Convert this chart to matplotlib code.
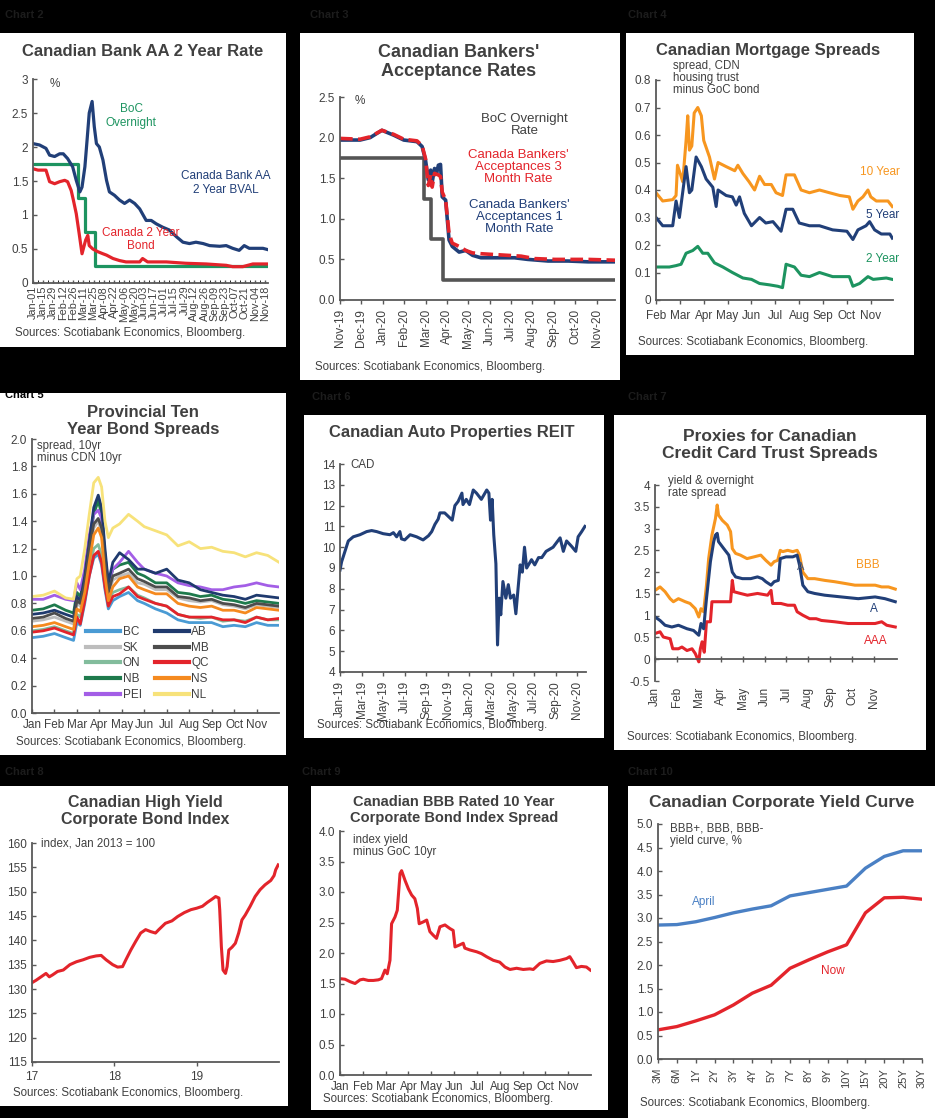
import numpy as np
import matplotlib.pyplot as plt
from matplotlib.patches import Rectangle

plt.rcParams['font.family'] = ['Liberation Sans', 'DejaVu Sans']

# ---------------- data ----------------
# Chart 2: x = days since Jan 1 2020
c2_labels = ["Jan-01", "Jan-15", "Jan-29", "Feb-12", "Feb-26", "Mar-11", "Mar-25", "Apr-08",
             "Apr-22", "May-06", "May-20", "Jun-03", "Jun-17", "Jul-01", "Jul-15", "Jul-29",
             "Aug-12", "Aug-26", "Sep-09", "Sep-23", "Oct-07", "Oct-21", "Nov-04", "Nov-18"]
bval_x = [0, 9, 18, 23, 30, 37, 42, 48, 55, 60, 65, 68, 72, 75, 78, 82, 85, 88, 92, 97, 102, 106,
          113, 120, 127, 134, 141, 148, 157, 164, 171, 180, 189, 199, 208, 217, 226, 236, 245, 259,
          268, 277, 286, 293, 300, 309, 319, 326]
bval_y = [2.05, 2.03, 1.98, 1.88, 1.86, 1.9, 1.9, 1.83, 1.71, 1.51, 1.34, 1.41, 1.71, 2.1, 2.5, 2.67,
          2.3, 2.05, 2.0, 1.81, 1.51, 1.34, 1.29, 1.22, 1.17, 1.22, 1.17, 1.09, 0.92, 0.92, 0.87, 0.82,
          0.78, 0.68, 0.6, 0.58, 0.6, 0.58, 0.55, 0.54, 0.55, 0.51, 0.48, 0.55, 0.51, 0.51, 0.51, 0.49]
bond_x = [0, 7, 18, 23, 30, 37, 44, 48, 53, 56, 60, 64, 68, 73, 76, 78, 83, 90, 97, 102, 111, 120,
          129, 148, 152, 159, 185, 212, 240, 268, 277, 291, 305, 326]
bond_y = [1.68, 1.66, 1.66, 1.49, 1.46, 1.49, 1.51, 1.49, 1.36, 1.22, 1.02, 0.73, 0.43, 0.63, 0.7,
          0.55, 0.5, 0.46, 0.43, 0.41, 0.36, 0.33, 0.31, 0.31, 0.36, 0.31, 0.31, 0.29, 0.28, 0.26,
          0.24, 0.24, 0.28, 0.28]
boc2_x = [0, 63, 72, 86, 326]
boc2_y = [1.75, 1.25, 0.75, 0.25, 0.25]

# Chart 3: x = months since Nov 2019
c3_labels = ["Nov-19", "Dec-19", "Jan-20", "Feb-20", "Mar-20", "Apr-20", "May-20", "Jun-20",
             "Jul-20", "Aug-20", "Sep-20", "Oct-20", "Nov-20"]
ba1_x = [0, 0.94, 1.41, 1.96, 2.51, 2.98, 3.6, 3.84, 4.0, 4.13, 4.24, 4.31, 4.42, 4.52, 4.6, 4.7,
         4.78, 4.94, 5.1, 5.25, 5.57, 5.88, 6.2, 6.59, 7.22, 8.16, 8.78, 9.73, 10.67, 11.6, 12.86]
ba1_y = [1.97, 1.97, 2.0, 2.09, 2.03, 1.97, 1.95, 1.89, 1.72, 1.48, 1.6, 1.45, 1.62, 1.56, 1.66, 1.67,
         1.27, 1.23, 0.74, 0.66, 0.59, 0.61, 0.55, 0.52, 0.52, 0.52, 0.5, 0.48, 0.48, 0.47, 0.47]
ba3_x = [0, 0.94, 1.41, 1.96, 2.51, 2.98, 3.6, 3.84, 4.0, 4.13, 4.24, 4.31, 4.42, 4.6, 4.7, 4.78,
         4.94, 5.1, 5.25, 5.57, 5.88, 6.2, 6.59, 7.84, 8.47, 9.1, 10.04, 11.6, 12.86]
ba3_y = [1.99, 1.98, 2.01, 2.09, 2.04, 1.98, 1.96, 1.9, 1.74, 1.41, 1.54, 1.39, 1.56, 1.54, 1.52, 1.33,
         1.23, 0.82, 0.7, 0.66, 0.61, 0.58, 0.57, 0.55, 0.54, 0.51, 0.5, 0.5, 0.49]
boc3_x = [0, 3.95, 4.25, 4.8, 12.86]
boc3_y = [1.75, 1.25, 0.75, 0.25, 0.25]

# Chart 4: x = months since Feb 1
c4_labels = ["Feb", "Mar", "Apr", "May", "Jun", "Jul", "Aug", "Sep", "Oct", "Nov"]
y10_x = [0, 0.28, 0.7, 0.84, 0.9, 1.05, 1.12, 1.26, 1.33, 1.4, 1.5, 1.6, 1.75, 1.9, 2.0, 2.24, 2.45,
         2.6, 2.94, 3.3, 3.43, 3.64, 3.9, 4.13, 4.34, 4.55, 4.83, 5.03, 5.3, 5.45, 5.8, 6.08, 6.43,
         6.85, 7.27, 7.7, 8.1, 8.25, 8.46, 8.67, 8.88, 9.0, 9.23, 9.5, 9.72, 9.9]
y10_y = [0.39, 0.36, 0.365, 0.38, 0.49, 0.45, 0.43, 0.58, 0.67, 0.545, 0.56, 0.68, 0.70, 0.67, 0.58,
         0.52, 0.44, 0.50, 0.485, 0.47, 0.49, 0.46, 0.43, 0.40, 0.45, 0.42, 0.42, 0.39, 0.38, 0.455,
         0.455, 0.40, 0.39, 0.40, 0.39, 0.38, 0.375, 0.33, 0.36, 0.375, 0.40, 0.375, 0.36, 0.36, 0.36,
         0.34]
y5_x = [0, 0.28, 0.7, 0.84, 0.98, 1.26, 1.4, 1.5, 1.68, 1.9, 2.1, 2.38, 2.52, 2.6, 2.94, 3.2, 3.36,
        3.5, 3.7, 4.0, 4.34, 4.6, 4.9, 5.24, 5.45, 5.73, 6.0, 6.43, 6.85, 7.4, 8.0, 8.25, 8.46, 8.8,
        8.95, 9.16, 9.44, 9.8, 9.9]
y5_y = [0.30, 0.27, 0.27, 0.36, 0.30, 0.485, 0.39, 0.40, 0.52, 0.485, 0.44, 0.41, 0.34, 0.40, 0.38,
        0.375, 0.345, 0.375, 0.315, 0.27, 0.30, 0.28, 0.285, 0.25, 0.33, 0.33, 0.28, 0.27, 0.27,
        0.255, 0.25, 0.22, 0.255, 0.27, 0.285, 0.255, 0.24, 0.24, 0.225]
y2_x = [0, 0.56, 0.84, 1.05, 1.26, 1.54, 1.75, 1.96, 2.17, 2.45, 2.8, 3.2, 3.64, 4.0, 4.34, 4.76,
        5.1, 5.3, 5.45, 5.8, 6.08, 6.43, 6.85, 7.4, 8.1, 8.25, 8.53, 8.88, 9.1, 9.65, 9.9]
y2_y = [0.12, 0.12, 0.125, 0.13, 0.17, 0.18, 0.195, 0.17, 0.17, 0.135, 0.12, 0.10, 0.08, 0.075, 0.06,
        0.055, 0.05, 0.045, 0.13, 0.12, 0.09, 0.085, 0.10, 0.085, 0.085, 0.05, 0.06, 0.085, 0.075,
        0.08, 0.075]

# Chart 5: x = months since Jan 1
c5_labels = ["Jan", "Feb", "Mar", "Apr", "May", "Jun", "Jul", "Aug", "Sep", "Oct", "Nov"]
prov_x = [0, 0.5, 1.0, 1.5, 1.85, 2.0, 2.15, 2.35, 2.55, 2.75, 2.95, 3.1, 3.25, 3.4, 3.6, 3.9, 4.3,
          4.7, 5.0, 5.5, 6.0, 6.5, 7.0, 7.5, 8.0, 8.5, 9.0, 9.5, 10.0, 10.5, 11.0]
bc = [0.55, 0.56, 0.58, 0.55, 0.53, 0.66, 0.64, 0.80, 1.00, 1.13, 1.16, 1.08, 0.90, 0.76, 0.82, 0.85,
      0.88, 0.82, 0.80, 0.76, 0.73, 0.68, 0.66, 0.66, 0.66, 0.63, 0.64, 0.63, 0.66, 0.64, 0.64]
ab = [0.72, 0.73, 0.75, 0.72, 0.70, 0.85, 0.82, 1.00, 1.25, 1.50, 1.59, 1.50, 1.20, 0.95, 1.10, 1.17,
      1.12, 1.05, 1.05, 1.02, 1.05, 0.97, 0.95, 0.90, 0.88, 0.86, 0.85, 0.83, 0.86, 0.85, 0.84]
sk = [0.67, 0.68, 0.70, 0.67, 0.65, 0.80, 0.78, 0.92, 1.15, 1.35, 1.40, 1.32, 1.05, 0.86, 0.97, 1.00,
      1.02, 0.95, 0.94, 0.90, 0.90, 0.84, 0.82, 0.81, 0.82, 0.79, 0.78, 0.76, 0.79, 0.78, 0.77]
mb = [0.69, 0.70, 0.73, 0.69, 0.67, 0.82, 0.80, 0.95, 1.20, 1.38, 1.42, 1.35, 1.10, 0.88, 1.00, 1.02,
      1.05, 0.98, 0.96, 0.92, 0.92, 0.85, 0.84, 0.82, 0.83, 0.80, 0.79, 0.77, 0.80, 0.79, 0.78]
on = [0.60, 0.61, 0.63, 0.60, 0.58, 0.72, 0.70, 0.85, 1.05, 1.20, 1.23, 1.15, 0.95, 0.80, 0.88, 0.90,
      0.92, 0.86, 0.84, 0.80, 0.78, 0.72, 0.70, 0.69, 0.70, 0.67, 0.68, 0.67, 0.70, 0.68, 0.68]
qc = [0.59, 0.60, 0.62, 0.59, 0.57, 0.70, 0.65, 0.82, 1.00, 1.15, 1.18, 1.10, 0.92, 0.78, 0.85, 0.87,
      0.92, 0.85, 0.83, 0.80, 0.78, 0.72, 0.70, 0.70, 0.70, 0.68, 0.68, 0.66, 0.70, 0.68, 0.69]
nb = [0.75, 0.76, 0.79, 0.75, 0.73, 0.88, 0.85, 1.00, 1.25, 1.45, 1.55, 1.45, 1.15, 0.92, 1.05, 1.08,
      1.10, 1.02, 1.00, 0.95, 0.95, 0.88, 0.87, 0.85, 0.86, 0.83, 0.82, 0.80, 0.82, 0.81, 0.80]
ns = [0.63, 0.64, 0.66, 0.63, 0.61, 0.76, 0.74, 0.88, 1.10, 1.30, 1.35, 1.28, 1.00, 0.82, 0.92, 0.98,
      1.00, 0.92, 0.90, 0.87, 0.87, 0.80, 0.78, 0.77, 0.78, 0.75, 0.75, 0.73, 0.77, 0.76, 0.75]
pei = [0.83, 0.83, 0.86, 0.83, 0.82, 0.95, 0.90, 1.05, 1.30, 1.45, 1.48, 1.42, 1.15, 0.95, 1.05, 1.10,
       1.18, 1.10, 1.05, 1.02, 1.00, 0.95, 0.93, 0.92, 0.90, 0.90, 0.92, 0.93, 0.95, 0.93, 0.92]
nl = [0.85, 0.86, 0.89, 0.84, 0.83, 0.98, 1.00, 1.20, 1.45, 1.68, 1.72, 1.65, 1.40, 1.28, 1.35, 1.38,
      1.45, 1.40, 1.36, 1.33, 1.30, 1.22, 1.25, 1.20, 1.21, 1.18, 1.17, 1.14, 1.17, 1.15, 1.10]

# Chart 6: x = months since Jan 2019
c6_labels = ["Jan-19", "Mar-19", "May-19", "Jul-19", "Sep-19", "Nov-19", "Jan-20", "Mar-20",
             "May-20", "Jul-20", "Sep-20", "Nov-20"]
reit_x = [0, 0.15, 0.46, 0.77, 1.23, 1.85, 2.47, 2.93, 3.4, 4.0, 4.63, 4.95, 5.25, 5.55, 5.7, 6.0,
          6.5, 7.1, 7.7, 8.2, 8.5, 8.8, 9.1, 9.26, 9.7, 10.2, 10.4, 10.65, 10.95, 11.3, 11.4, 11.7,
          12.0, 12.35, 12.65, 13.1, 13.6, 13.8, 13.95, 14.1, 14.25, 14.45, 14.6, 14.75, 14.9, 15.1,
          15.37, 15.6, 15.8, 16.1, 16.3, 16.5, 16.7, 16.9, 17.1, 17.3, 17.75, 18.05, 18.4, 18.7,
          19.1, 19.75, 20.4, 20.7, 21.0, 21.45, 21.85, 22.07, 22.4, 22.7]
reit_y = [8.9, 9.3, 9.8, 10.3, 10.5, 10.6, 10.75, 10.8, 10.75, 10.65, 10.6, 10.7, 10.5, 10.75, 10.4,
          10.35, 10.6, 10.5, 10.35, 10.55, 10.75, 11.1, 11.35, 11.65, 11.65, 11.4, 11.3, 12.0, 12.2,
          12.6, 12.05, 12.3, 12.05, 12.75, 12.6, 12.3, 12.75, 12.6, 11.3, 12.3, 10.6, 9.2, 5.3, 7.55,
          6.75, 8.35, 7.55, 8.2, 7.55, 7.7, 6.8, 8.0, 9.15, 8.8, 10.0, 9.0, 9.4, 9.15, 9.5, 9.5, 9.8,
          10.0, 10.45, 9.8, 10.3, 10.05, 9.8, 10.5, 10.75, 11.0]

# Chart 7: x = months since Jan 1
c7_labels = ["Jan", "Feb", "Mar", "Apr", "May", "Jun", "Jul", "Aug", "Sep", "Oct", "Nov"]
bbb_x = [0, 0.23, 0.46, 0.69, 0.84, 1.07, 1.38, 1.6, 1.84, 2.0, 2.1, 2.22, 2.35, 2.45, 2.6, 2.76,
         2.84, 2.9, 3.07, 3.3, 3.45, 3.53, 3.68, 3.9, 4.2, 4.52, 4.83, 5.06, 5.3, 5.44, 5.6, 5.72,
         5.83, 6.06, 6.29, 6.49, 6.6, 6.75, 6.98, 7.29, 7.75, 8.2, 8.67, 9.13, 9.6, 10.05, 10.35,
         10.66, 10.97]
bbb_y = [1.58, 1.66, 1.55, 1.39, 1.32, 1.39, 1.32, 1.28, 1.16, 0.97, 1.16, 1.09, 1.7, 2.31, 2.85,
         3.23, 3.54, 3.31, 3.19, 3.08, 2.93, 2.54, 2.43, 2.39, 2.31, 2.35, 2.39, 2.27, 2.16, 2.24,
         2.27, 2.5, 2.47, 2.5, 2.47, 2.5, 2.39, 2.0, 1.85, 1.85, 1.81, 1.78, 1.74, 1.7, 1.7, 1.7,
         1.66, 1.66, 1.61]
a_x = [0, 0.23, 0.46, 0.77, 1.07, 1.46, 1.76, 2.0, 2.1, 2.22, 2.35, 2.53, 2.68, 2.76, 2.84, 2.9,
       3.14, 3.37, 3.53, 3.68, 3.99, 4.37, 4.68, 4.9, 5.06, 5.3, 5.44, 5.63, 5.72, 5.98, 6.29, 6.49,
       6.6, 6.75, 6.98, 7.29, 7.75, 8.51, 9.28, 10.05, 10.5, 10.97]
a_y = [0.97, 0.89, 0.78, 0.74, 0.78, 0.7, 0.66, 0.55, 0.82, 0.7, 1.39, 2.24, 2.7, 2.85, 2.89, 2.7,
       2.54, 2.39, 2.0, 1.89, 1.85, 1.85, 1.89, 1.85, 1.78, 1.7, 1.78, 1.81, 2.31, 2.35, 2.35, 2.39,
       2.16, 1.7, 1.55, 1.51, 1.47, 1.43, 1.39, 1.43, 1.39, 1.32]
aaa_x = [0, 0.23, 0.38, 0.69, 0.81, 1.07, 1.23, 1.46, 1.69, 1.84, 2.0, 2.07, 2.15, 2.25, 2.35, 2.53,
         2.6, 2.99, 3.45, 3.53, 3.6, 3.9, 4.22, 4.68, 5.14, 5.3, 5.37, 5.75, 6.06, 6.37, 6.49, 6.75,
         7.06, 7.36, 7.6, 8.2, 8.82, 9.43, 10.05, 10.35, 10.58, 10.97]
aaa_y = [0.59, 0.63, 0.51, 0.47, 0.24, 0.24, 0.28, 0.2, 0.24, 0.13, -0.06, 0.24, 0.4, 0.16, 0.86,
         0.86, 1.32, 1.32, 1.32, 1.81, 1.55, 1.51, 1.47, 1.51, 1.47, 1.58, 1.28, 1.28, 1.24, 1.24,
         1.09, 1.01, 0.93, 0.93, 0.89, 0.86, 0.82, 0.82, 0.82, 0.86, 0.78, 0.74]

# Chart 8: x = years
c8_labels = ["17", "18", "19"]
hy_x = [17.0, 17.05, 17.11, 17.17, 17.21, 17.25, 17.31, 17.38, 17.46, 17.54, 17.62, 17.7, 17.78,
        17.84, 17.9, 17.98, 18.04, 18.1, 18.14, 18.2, 18.26, 18.32, 18.38, 18.44, 18.5, 18.54, 18.62,
        18.7, 18.77, 18.85, 18.93, 19.0, 19.07, 19.13, 19.19, 19.23, 19.27, 19.28, 19.3, 19.32,
        19.35, 19.37, 19.39, 19.43, 19.47, 19.51, 19.55, 19.59, 19.65, 19.71, 19.77, 19.83, 19.9,
        19.94, 19.96, 19.99]
hy_y = [131.3, 131.8, 132.5, 133.2, 132.5, 132.9, 133.6, 133.9, 135.0, 135.6, 136.0, 136.5, 136.8,
        136.9, 136.0, 135.0, 134.5, 134.6, 136.0, 138.0, 139.8, 141.5, 142.2, 141.8, 141.5, 142.2,
        143.5, 144.0, 144.9, 145.7, 146.3, 146.6, 147.0, 147.8, 148.5, 149.0, 148.7, 146.3, 138.7,
        133.9, 133.2, 134.6, 138.0, 138.6, 139.4, 141.5, 144.2, 145.2, 147.0, 149.0, 150.4, 151.4,
        152.3, 153.3, 154.5, 155.5]

# Chart 9: x = months since Jan 1
c9_labels = ["Jan", "Feb", "Mar", "Apr", "May", "Jun", "Jul", "Aug", "Sep", "Oct", "Nov"]
bbb10_x = [0, 0.22, 0.44, 0.66, 0.88, 1.02, 1.24, 1.46, 1.68, 1.82, 1.97, 2.07, 2.19, 2.26, 2.41,
           2.51, 2.63, 2.7, 2.85, 3.0, 3.14, 3.28, 3.39, 3.47, 3.65, 3.8, 3.94, 4.09, 4.23, 4.38,
           4.6, 4.82, 4.96, 5.04, 5.23, 5.4, 5.47, 5.69, 5.99, 6.2, 6.42, 6.72, 7.0, 7.23, 7.45,
           7.74, 8.03, 8.32, 8.47, 8.76, 9.05, 9.34, 9.64, 9.93, 10.07, 10.22, 10.36, 10.58, 10.8,
           10.97]
bbb10_y = [1.58, 1.57, 1.53, 1.5, 1.56, 1.57, 1.55, 1.55, 1.56, 1.58, 1.72, 1.66, 1.88, 2.48, 2.59,
           2.7, 3.3, 3.35, 3.19, 3.05, 2.95, 2.89, 2.73, 2.48, 2.51, 2.54, 2.35, 2.29, 2.24, 2.43,
           2.46, 2.4, 2.37, 2.1, 2.13, 2.16, 2.08, 2.05, 2.02, 1.99, 1.94, 1.88, 1.85, 1.77, 1.73,
           1.75, 1.73, 1.74, 1.73, 1.83, 1.87, 1.86, 1.88, 1.91, 1.94, 1.85, 1.76, 1.78, 1.77, 1.72]

# Chart 10: yield curve
tenors = ["3M", "6M", "1Y", "2Y", "3Y", "4Y", "5Y", "7Y", "8Y", "9Y", "10Y", "15Y", "20Y", "25Y", "30Y"]
april = [2.85, 2.86, 2.92, 3.01, 3.11, 3.19, 3.26, 3.47, 3.54, 3.61, 3.68, 4.06, 4.31, 4.43, 4.43]
now = [0.62, 0.69, 0.81, 0.94, 1.15, 1.40, 1.57, 1.93, 2.11, 2.28, 2.43, 3.11, 3.43, 3.44, 3.40]

SOURCE = "Sources: Scotiabank Economics, Bloomberg."

# ---------------- colours ----------------
NAVY = '#213f78'
RED = '#e3242b'
GREEN = '#1d9460'
ORANGE = '#f7961f'
TXT = '#404040'
AXC = '#595959'
DIM = '#1c1c1c'

W, H = 935, 1118
fig = plt.figure(figsize=(W / 100, H / 100), dpi=100, facecolor='black')


def panel(x0, y0, x1, y1):
    fig.patches.append(Rectangle((x0 / W, 1 - y1 / H), (x1 - x0) / W, (y1 - y0) / H,
                                 transform=fig.transFigure, facecolor='white',
                                 edgecolor='none', zorder=-5))


def make_ax(x0, y0, x1, y1):
    ax = fig.add_axes([x0 / W, 1 - y1 / H, (x1 - x0) / W, (y1 - y0) / H])
    ax.set_facecolor('none')
    for s in ['top', 'right']:
        ax.spines[s].set_visible(False)
    for s in ['left', 'bottom']:
        ax.spines[s].set_color(AXC)
        ax.spines[s].set_linewidth(1.3)
    ax.tick_params(colors=AXC, labelcolor=TXT, labelsize=8.5, length=3, width=1)
    ax.tick_params(axis='y', direction='in')
    return ax


def ftext(x, y, s, **kw):
    kw.setdefault('color', TXT)
    kw.setdefault('fontsize', 8.5)
    fig.text(x / W, 1 - y / H, s, **kw)


def title(x, y, s, size=12, spacing=1.05):
    ftext(x, y, s, ha='center', va='center', fontsize=size, fontweight='bold',
          linespacing=spacing)


def source(x, y):
    ftext(x, y, SOURCE, ha='left', va='center', fontsize=8.3)


# white panels
panel(0, 33, 286, 347)
panel(300, 33, 620, 380)
panel(626, 33, 914, 355)
panel(0, 393, 286, 755)
panel(304, 415, 604, 738)
panel(614, 415, 926, 750)
panel(0, 786, 288, 1106)
panel(311, 786, 608, 1110)
panel(628, 786, 935, 1118)

# chart numbers
for cx, cy, lab, col in [(5, 15, "Chart 2", DIM), (310, 15, "Chart 3", DIM),
                         (628, 15, "Chart 4", DIM), (5, 395, "Chart 5", 'black'),
                         (312, 397, "Chart 6", DIM), (628, 397, "Chart 7", DIM),
                         (5, 772, "Chart 8", DIM), (302, 772, "Chart 9", DIM),
                         (628, 772, "Chart 10", DIM)]:
    ftext(cx, cy, lab, color=col, fontsize=8, fontweight='bold', va='center')

# ---- Chart 2 ----
title(143, 52, "Canadian Bank AA 2 Year Rate")
ax = make_ax(33, 79, 268, 283)
ax.plot(boc2_x, boc2_y, color=GREEN, lw=2.3, drawstyle='steps-post')
ax.plot(bond_x, bond_y, color=RED, lw=2.3)
ax.plot(bval_x, bval_y, color=NAVY, lw=2.3)
ax.set_xlim(0, 326)
ax.set_ylim(0, 3)
ax.set_yticks([0, 0.5, 1, 1.5, 2, 2.5, 3], ["0", "0.5", "1", "1.5", "2", "2.5", "3"])
ax.set_xticks(np.arange(len(c2_labels)) * 14, c2_labels, rotation=90)
ax.set_xticks(np.arange(0, 326, 7), minor=True)
ax.tick_params(axis='x', which='both', direction='in', labelsize=7.8, length=2.5, pad=2)
ax.text(23, 2.93, "%", color=TXT, fontsize=8.5, va='center')
ax.text(136, 2.45, "BoC\nOvernight", color=GREEN, fontsize=8.5, ha='center', va='center')
ax.text(268, 1.47, "Canada Bank AA\n2 Year BVAL", color=NAVY, fontsize=8.5, ha='center', va='center')
ax.text(150, 0.64, "Canada 2 Year\nBond", color=RED, fontsize=8.5, ha='center', va='center')
source(15, 333)

# ---- Chart 3 ----
title(459, 62, "Canadian Bankers'\nAcceptance Rates", size=13, spacing=1.2)
ax = make_ax(340, 97, 615, 300)
ax.plot(boc3_x, boc3_y, color='#555555', lw=2.6, drawstyle='steps-post')
ax.plot(ba1_x, ba1_y, color=NAVY, lw=2.6)
ax.plot(ba3_x, ba3_y, color=RED, lw=2.6, dashes=(3.5, 1.5))
ax.set_xlim(0, 12.86)
ax.set_ylim(0, 2.5)
ax.set_yticks([0, 0.5, 1, 1.5, 2, 2.5], ["0.0", "0.5", "1.0", "1.5", "2.0", "2.5"])
ax.set_xticks(np.arange(len(c3_labels)), c3_labels, rotation=90)
ax.tick_params(axis='x', direction='out', labelsize=8.5)
ax.tick_params(axis='y', labelsize=8.5)
ax.text(0.67, 2.45, "%", color=TXT, fontsize=8.5, va='center')
ax.text(8.63, 2.15, "BoC Overnight\nRate", color='#404040', fontsize=9.5, ha='center', va='center',
        linespacing=1.0)
ax.text(8.35, 1.64, "Canada Bankers'\nAcceptances 3\nMonth Rate", color=RED, fontsize=9.5,
        ha='center', va='center', linespacing=1.0)
ax.text(8.4, 1.02, "Canada Bankers'\nAcceptances 1\nMonth Rate", color=NAVY, fontsize=9.5,
        ha='center', va='center', linespacing=1.0)
source(315, 367)

# ---- Chart 4 ----
title(768, 50, "Canadian Mortgage Spreads")
ax = make_ax(656, 80, 893, 300)
ax.plot(y10_x, y10_y, color=ORANGE, lw=2.2)
ax.plot(y5_x, y5_y, color=NAVY, lw=2.2)
ax.plot(y2_x, y2_y, color=GREEN, lw=2.2)
ax.set_xlim(0, 9.93)
ax.set_ylim(0, 0.8)
ax.set_yticks(np.arange(9) / 10, ["0", "0.1", "0.2", "0.3", "0.4", "0.5", "0.6", "0.7", "0.8"])
ax.set_xticks(np.arange(len(c4_labels)), c4_labels)
ax.tick_params(axis='x', direction='out', labelsize=8.5, pad=4)
ftext(673, 78, "spread, CDN\nhousing trust\nminus GoC bond", fontsize=8.3, va='center',
      linespacing=1.05)
ax.text(9.37, 0.467, "10 Year", color=ORANGE, fontsize=8.5, ha='center', va='center')
ax.text(9.51, 0.309, "5 Year", color=NAVY, fontsize=8.5, ha='center', va='center')
ax.text(9.51, 0.148, "2 Year", color=GREEN, fontsize=8.5, ha='center', va='center')
source(638, 342)

# ---- Chart 5 ----
title(143, 421, "Provincial Ten\nYear Bond Spreads", spacing=1.1)
ax = make_ax(32, 439, 279, 713)
prov = [("BC", bc, '#4a9bd4'), ("SK", sk, '#bdbdbd'), ("ON", on, '#82bc9c'),
        ("NB", nb, '#1e7a4c'), ("PEI", pei, '#a35ee6'), ("AB", ab, '#1f3a6e'),
        ("MB", mb, '#4d4d4d'), ("QC", qc, RED), ("NS", ns, '#f58a1f'), ("NL", nl, '#f7e27a')]
handles = []
for name, vals, col in prov:
    ln, = ax.plot(prov_x, vals, color=col, lw=2.0, label=name)
    handles.append(ln)
ax.set_xlim(0, 11)
ax.set_ylim(0, 2)
ax.set_yticks(np.arange(11) / 5, ["0.0", "0.2", "0.4", "0.6", "0.8", "1.0", "1.2", "1.4", "1.6",
                                  "1.8", "2.0"])
ax.set_xticks(np.arange(len(c5_labels)), c5_labels)
ax.tick_params(axis='x', direction='in', labelsize=8.5, pad=4)
leg = ax.legend(handles=handles, ncol=2, frameon=False, loc='upper left',
                bbox_to_anchor=(0.2, 0.335), fontsize=8.5, handlelength=2.9,
                handletextpad=0.2, columnspacing=1.1, labelspacing=0.32, borderaxespad=0)
for t in leg.get_texts():
    t.set_color(TXT)
for l in leg.get_lines():
    l.set_linewidth(3)
ftext(37, 452, "spread, 10yr\nminus CDN 10yr", fontsize=8.3, va='center', linespacing=1.05)
source(16, 742)

# ---- Chart 6 ----
title(452, 433, "Canadian Auto Properties REIT", size=12)
ax = make_ax(340, 464, 586, 672)
ax.plot(reit_x, reit_y, color=NAVY, lw=2.2)
ax.set_xlim(0, 22.8)
ax.set_ylim(4, 14)
ax.set_yticks(np.arange(4, 15))
ax.set_xticks(np.arange(len(c6_labels)) * 2, c6_labels, rotation=90)
ax.tick_params(axis='x', direction='out', labelsize=8.5)
ftext(350, 465, "CAD", fontsize=8.3, va='center')
source(317, 725)

# ---- Chart 7 ----
title(770, 445, "Proxies for Canadian\nCredit Card Trust Spreads", size=12.5, spacing=1.15)
ax = make_ax(655, 485, 897, 681)
ax.plot(bbb_x, bbb_y, color=ORANGE, lw=2.2)
ax.plot(aaa_x, aaa_y, color=RED, lw=2.2)
ax.plot(a_x, a_y, color=NAVY, lw=2.2)
ax.set_xlim(0, 11.05)
ax.set_ylim(-0.5, 4)
ax.set_yticks(np.arange(-0.5, 4.01, 0.5),
              ["-0.5", "0", "0.5", "1", "1.5", "2", "2.5", "3", "3.5", "4"])
ax.spines['bottom'].set_position(('data', 0))
ax.set_xticks(np.arange(len(c7_labels)))
ax.tick_params(axis='x', direction='inout', length=5, labelbottom=False)
sec = ax.secondary_xaxis(location=0)
sec.spines['bottom'].set_visible(False)
sec.set_xticks(np.arange(len(c7_labels)), c7_labels, rotation=90)
sec.tick_params(length=0, labelsize=8.5, labelcolor=TXT, pad=4)
ftext(668, 487, "yield & overnight\nrate spread", fontsize=8.3, va='center', linespacing=1.05)
ax.text(9.74, 2.16, "BBB", color=ORANGE, fontsize=8.5, ha='center', va='center')
ax.text(10.0, 1.16, "A", color=NAVY, fontsize=8.5, ha='center', va='center')
ax.text(10.1, 0.41, "AAA", color=RED, fontsize=8.5, ha='center', va='center')
ax.text(6.64, 2.12, "A", color='#4a5a78', fontsize=8, ha='center', va='center')
source(627, 737)

# ---- Chart 8 ----
title(145, 811, "Canadian High Yield\nCorporate Bond Index", size=11.5, spacing=1.15)
ax = make_ax(32, 843, 279, 1062)
ax.plot(hy_x, hy_y, color=RED, lw=2.2)
ax.set_xlim(17, 20)
ax.set_ylim(115, 160)
ax.set_yticks(np.arange(115, 161, 5))
ax.set_xticks([17, 18, 19], c8_labels)
ax.tick_params(axis='x', direction='out', labelsize=8.5)
ftext(41, 844, "index, Jan 2013 = 100", fontsize=8.3, va='center')
source(13, 1093)

# ---- Chart 9 ----
title(454, 810, "Canadian BBB Rated 10 Year\nCorporate Bond Index Spread", size=10.5, spacing=1.1)
ax = make_ax(340, 831, 591, 1075)
ax.plot(bbb10_x, bbb10_y, color=RED, lw=2.2)
ax.set_xlim(0, 11)
ax.set_ylim(0, 4)
ax.set_yticks(np.arange(9) / 2, ["0.0", "0.5", "1.0", "1.5", "2.0", "2.5", "3.0", "3.5", "4.0"])
ax.set_xticks(np.arange(len(c9_labels)), c9_labels)
ax.tick_params(axis='x', direction='in', labelsize=8.3, pad=4)
ftext(353, 846, "index yield\nminus GoC 10yr", fontsize=8.3, va='center', linespacing=1.05)
source(323, 1099)

# ---- Chart 10 ----
title(782, 803, "Canadian Corporate Yield Curve", size=12.5)
ax = make_ax(658, 824, 922, 1059)
xs = np.arange(len(tenors))
ax.plot(xs, april, color='#4a80c4', lw=2.4)
ax.plot(xs, now, color=RED, lw=2.4)
ax.set_xlim(0, len(tenors) - 1)
ax.set_ylim(0, 5)
ax.set_yticks(np.arange(11) / 2, ["0.0", "0.5", "1.0", "1.5", "2.0", "2.5", "3.0", "3.5", "4.0",
                                  "4.5", "5.0"])
ax.set_xticks(xs, tenors, rotation=90)
ax.tick_params(axis='x', direction='out', labelsize=8)
ftext(670, 835, "BBB+, BBB, BBB-\nyield curve, %", fontsize=8.3, va='center', linespacing=1.05)
ax.text(2.45, 3.35, "April", color='#4a80c4', fontsize=8.5, ha='center', va='center')
ax.text(9.3, 1.88, "Now", color=RED, fontsize=8.5, ha='center', va='center')
source(640, 1103)

fig.savefig('out.png', dpi=100, facecolor='black')
